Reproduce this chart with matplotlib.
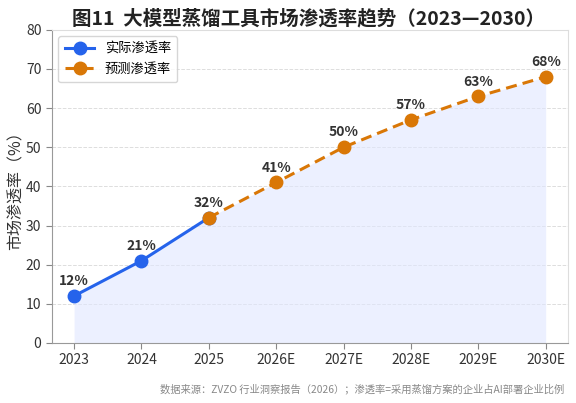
import numpy as np
import matplotlib
matplotlib.use("Agg")
import matplotlib.pyplot as plt

plt.rcParams['font.family'] = ['Noto Sans CJK SC', 'DejaVu Sans']

years = ['2023', '2024', '2025', '2026E', '2027E', '2028E', '2029E', '2030E']
actual = [12, 21, 32]
forecast = [32, 41, 50, 57, 63, 68]
all_values = [12, 21, 32, 41, 50, 57, 63, 68]

blue = '#2563EB'
orange = '#D97706'

fig = plt.figure(figsize=(5.76, 4.03), dpi=100)
ax = fig.add_axes([0.090, 0.149, 0.896, 0.777])

x = np.arange(len(years))
ax.fill_between(x, all_values, 0, color='#E0E7FF', alpha=0.6, lw=0)
ax.plot(x[:3], actual, color=blue, lw=2.2, marker='o', ms=9, label='实际渗透率', zorder=3)
ax.plot(x[2:], forecast, color=orange, lw=2.2, ls=(0, (3.6, 2)), marker='o', ms=9,
        label='预测渗透率', zorder=3)

# data labels above each point
for xi, v in zip(x, all_values):
    ax.text(xi, v + 2.0, f'{v}%', ha='center', va='bottom', fontsize=10,
            fontweight='bold', color='#333333')

ax.set_xlim(-0.33, 7.33)
ax.set_ylim(0, 80)
ax.set_xticks(x)
ax.set_xticklabels(years)
ax.set_yticks(range(0, 81, 10))
ax.tick_params(labelsize=10, colors='#333333', length=4, color='#888888')
ax.set_ylabel('市场渗透率（%）', fontsize=11.5, color='#333333', labelpad=1)
ax.grid(axis='y', ls='--', color='#DDDDDD', lw=0.7)
ax.set_axisbelow(True)
for s in ['left', 'bottom']:
    ax.spines[s].set_color('#999999')
for s in ['top', 'right']:
    ax.spines[s].set_color('#DDDDDD')

ax.legend(loc='upper left', fontsize=9.5, frameon=True, edgecolor='#CCCCCC',
          borderpad=0.5, handlelength=2.2)

fig.text(0.535, 0.955, '图11  大模型蒸馏工具市场渗透率趋势（2023—2030）', ha='center', va='center',
         fontsize=14, fontweight='bold', color='#222222')
fig.text(0.98, 0.035, '数据来源：ZVZO 行业洞察报告（2026）；渗透率=采用蒸馏方案的企业占AI部署企业比例',
         ha='right', va='center', fontsize=7.4, color='#888888')

fig.savefig('out.png', dpi=100)
